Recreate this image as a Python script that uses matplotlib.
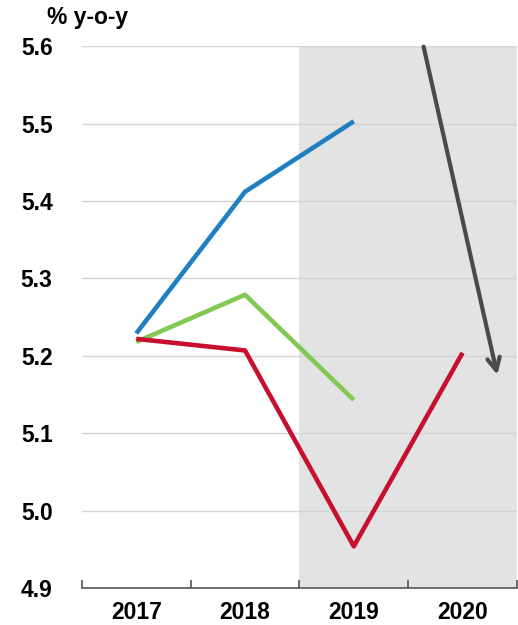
import matplotlib
matplotlib.use("Agg")
import matplotlib.pyplot as plt

years = ["2017", "2018", "2019", "2020"]
blue_vals = [5.229, 5.412, 5.503]
green_vals = [5.218, 5.279, 5.143]
red_vals = [5.222, 5.207, 4.954, 5.204]
y_ticks = [4.9, 5.0, 5.1, 5.2, 5.3, 5.4, 5.5, 5.6]

plt.rcParams['font.family'] = ['Liberation Sans', 'DejaVu Sans']

fig = plt.figure(figsize=(5.18, 6.25), dpi=100)
ax = fig.add_axes([0.158, 0.059, 0.84, 0.867])

xs = list(range(len(years)))
ax.axvspan(1.5, 3.5, color="#e3e3e3", zorder=0, lw=0)
for yv in y_ticks[1:]:
    ax.axhline(yv, color="#d4d4d4", lw=1, zorder=1)

ax.plot(xs[:3], blue_vals, color="#1f7fc1", lw=3.3, zorder=3, solid_capstyle="butt")
ax.plot(xs[:3], green_vals, color="#82c855", lw=3.3, zorder=3, solid_capstyle="butt")
ax.plot(xs, red_vals, color="#c8102e", lw=3.3, zorder=4, solid_capstyle="butt")

ax.annotate("", xy=(3.325, 5.172), xytext=(2.636, 5.603),
            arrowprops=dict(arrowstyle="->,head_length=0.9,head_width=0.45",
                            color="#4a4a4a", lw=3), zorder=5, annotation_clip=False)

ax.set_xlim(-0.5, 3.5)
ax.set_ylim(4.9, 5.6)
ax.set_yticks(y_ticks)
ax.set_yticklabels([f"{v:.1f}" for v in y_ticks], fontsize=16.5, fontweight="bold")
ax.set_xticks([-0.5, 0.5, 1.5, 2.5, 3.5])
ax.set_xticklabels([])
ax.set_xticks(xs, minor=True)
ax.set_xticklabels(years, minor=True, fontsize=16.5, fontweight="bold")
ax.tick_params(axis="x", which="major", direction="in", length=6, color="#555555", width=1.2)
ax.tick_params(axis="x", which="minor", length=0, pad=9)
ax.tick_params(axis="y", length=0, pad=21)

for s in ["left", "right", "top"]:
    ax.spines[s].set_visible(False)
ax.spines["bottom"].set_color("#555555")
ax.spines["bottom"].set_linewidth(1.2)

fig.text(0.091, 0.972, "% y-o-y", fontsize=16.5, fontweight="bold", ha="left", va="center")

fig.savefig("out.png", dpi=100)
